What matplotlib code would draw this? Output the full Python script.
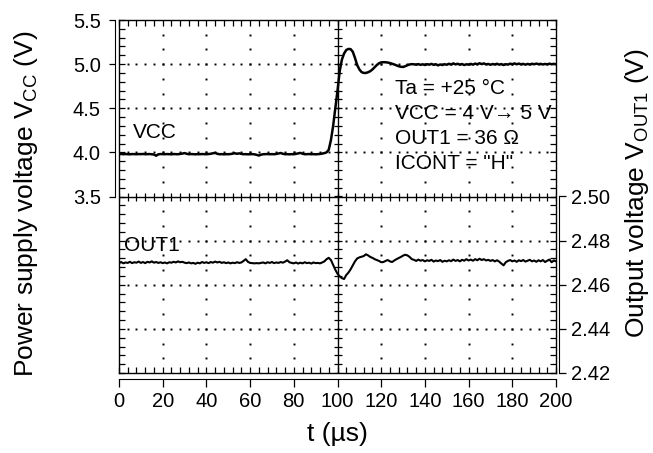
import numpy as np
import matplotlib
matplotlib.use("Agg")
import matplotlib.pyplot as plt
from matplotlib.ticker import MultipleLocator, FormatStrFormatter

plt.rcParams['font.family'] = ['Liberation Sans', 'DejaVu Sans']
plt.rcParams['mathtext.fontset'] = 'custom'
plt.rcParams['mathtext.rm'] = 'Liberation Sans'

# time axis, 1 us steps
t_us = np.arange(0, 201)

# VCC trace (V)
vcc = [
    3.980, 3.982, 3.979, 3.981, 3.980, 3.978, 3.981, 3.980, 3.979, 3.981,
    3.980, 3.982, 3.979, 3.980, 3.981, 3.979, 3.976, 3.962, 3.978, 3.981,
    3.980, 3.979, 3.981, 3.980, 3.978, 3.981, 3.980, 3.979, 3.982, 3.986,
    3.992, 3.984, 3.979, 3.981, 3.980, 3.978, 3.980, 3.979, 3.981, 3.980,
    3.979, 3.981, 3.984, 3.990, 3.994, 3.984, 3.979, 3.980, 3.978, 3.980,
    3.979, 3.981, 3.986, 3.990, 3.984, 3.989, 3.983, 3.979, 3.980, 3.978,
    3.979, 3.980, 3.978, 3.972, 3.964, 3.974, 3.979, 3.980, 3.981, 3.979,
    3.980, 3.979, 3.982, 3.988, 3.993, 3.984, 3.979, 3.980, 3.978, 3.980,
    3.979, 3.983, 3.989, 3.994, 3.985, 3.979, 3.980, 3.981, 3.979, 3.980,
    3.978, 3.980, 3.982, 3.986, 3.992, 4.000, 4.030, 4.140, 4.300, 4.500,
    4.700, 4.920, 5.050, 5.120, 5.160, 5.172, 5.170, 5.140, 5.070, 4.990,
    4.940, 4.910, 4.900, 4.900, 4.908, 4.920, 4.940, 4.965, 4.990, 5.010,
    5.020, 5.022, 5.021, 5.018, 5.012, 5.004, 4.996, 4.986, 4.976, 4.970,
    4.968, 4.976, 4.988, 4.996, 5.000, 4.998, 4.994, 5.000, 4.992, 4.998,
    4.990, 4.999, 4.994, 5.003, 4.991, 4.999, 4.986, 4.996, 4.990, 4.999,
    4.993, 5.004, 4.995, 5.008, 4.997, 5.004, 4.994, 5.001, 4.990, 4.998,
    4.995, 5.003, 4.994, 5.006, 4.998, 5.010, 5.000, 5.008, 4.997, 5.002,
    4.993, 5.001, 4.996, 5.004, 4.994, 5.000, 4.990, 4.999, 4.995, 5.005,
    4.999, 5.008, 4.998, 5.006, 4.997, 5.003, 4.994, 5.002, 4.996, 5.004,
    4.998, 5.006, 4.999, 5.003, 4.996, 5.002, 4.997, 5.005, 4.999, 5.003, 4.998,
]

# OUT1 trace (V)
out1 = [
    2.4698, 2.4703, 2.4697, 2.4701, 2.4699, 2.4704, 2.4698, 2.4702, 2.4700, 2.4705,
    2.4699, 2.4703, 2.4698, 2.4704, 2.4701, 2.4706, 2.4700, 2.4703, 2.4699, 2.4702,
    2.4698, 2.4701, 2.4697, 2.4702, 2.4700, 2.4704, 2.4701, 2.4706, 2.4702, 2.4704,
    2.4700, 2.4698, 2.4701, 2.4697, 2.4699, 2.4695, 2.4700, 2.4697, 2.4703, 2.4699,
    2.4702, 2.4698, 2.4703, 2.4700, 2.4705, 2.4701, 2.4704, 2.4699, 2.4702, 2.4698,
    2.4701, 2.4697, 2.4700, 2.4698, 2.4702, 2.4699, 2.4701, 2.4708, 2.4716, 2.4704,
    2.4699, 2.4698, 2.4697, 2.4698, 2.4697, 2.4699, 2.4701, 2.4697, 2.4702, 2.4699,
    2.4703, 2.4698, 2.4701, 2.4699, 2.4703, 2.4700, 2.4705, 2.4711, 2.4702, 2.4699,
    2.4697, 2.4701, 2.4696, 2.4700, 2.4697, 2.4702, 2.4698, 2.4700, 2.4696, 2.4701,
    2.4698, 2.4699, 2.4697, 2.4701, 2.4706, 2.4716, 2.4722, 2.4712, 2.4690, 2.4668,
    2.4650, 2.4638, 2.4630, 2.4626, 2.4644, 2.4655, 2.4670, 2.4688, 2.4706, 2.4719,
    2.4724, 2.4727, 2.4730, 2.4738, 2.4733, 2.4726, 2.4722, 2.4716, 2.4712, 2.4708,
    2.4702, 2.4703, 2.4708, 2.4712, 2.4706, 2.4703, 2.4710, 2.4716, 2.4721, 2.4726,
    2.4732, 2.4736, 2.4733, 2.4726, 2.4716, 2.4713, 2.4708, 2.4714, 2.4709, 2.4712,
    2.4706, 2.4711, 2.4708, 2.4713, 2.4705, 2.4710, 2.4707, 2.4712, 2.4704, 2.4709,
    2.4706, 2.4711, 2.4707, 2.4714, 2.4708, 2.4712, 2.4706, 2.4713, 2.4709, 2.4716,
    2.4710, 2.4714, 2.4709, 2.4716, 2.4711, 2.4718, 2.4712, 2.4716, 2.4710, 2.4713,
    2.4708, 2.4712, 2.4706, 2.4711, 2.4705, 2.4696, 2.4688, 2.4702, 2.4708, 2.4712,
    2.4706, 2.4710, 2.4704, 2.4711, 2.4707, 2.4712, 2.4705, 2.4709, 2.4713, 2.4706,
    2.4710, 2.4704, 2.4711, 2.4706, 2.4712, 2.4703, 2.4709, 2.4714, 2.4702, 2.4710, 2.4706,
]

vcc_ticks = [3.5, 4.0, 4.5, 5.0, 5.5]
out_ticks = [2.42, 2.44, 2.46, 2.48, 2.50]
t_ticks = np.arange(0, 201, 20)
cond_lines = ["Ta = +25 °C", "VCC = 4 V\u2192 5 V", "OUT1 = 36 \u03a9", "ICONT = \"H\""]

W, H = 653, 453
fig = plt.figure(figsize=(W / 100, H / 100), dpi=100)
pos = [119 / W, 1 - 373 / H, (556 - 119) / W, (373 - 20) / H]

# graticule
gax = fig.add_axes(pos)
gax.set_xlim(0, 200)
gax.set_ylim(1.5, 5.5)
gax.xaxis.set_major_locator(MultipleLocator(4))
gax.yaxis.set_major_locator(MultipleLocator(0.1))
gax.tick_params(direction='in', length=4, width=0.9, top=True, right=True,
                labelbottom=False, labelleft=False)
for s in gax.spines.values():
    s.set_linewidth(1.0)

minor_t = np.arange(0, 201, 4)
for yv in [2.0, 2.5, 3.0, 4.0, 4.5, 5.0]:
    gax.plot(minor_t[1:-1], np.full(len(minor_t) - 2, yv), ls='none',
             marker='s', ms=1.4, mec='none', color='black')
ydots = np.linspace(1.5, 5.5, 25)
for xv in [20, 40, 60, 80, 120, 140, 160, 180]:
    gax.plot(np.full(len(ydots) - 2, xv), ydots[1:-1], ls='none',
             marker='s', ms=1.4, mec='none', color='black')

# centre cross with ticks
gax.axhline(3.5, color='black', lw=1.0)
gax.axvline(100, color='black', lw=1.0)
gax.plot(minor_t, np.full(len(minor_t), 3.5), ls='none', marker='|',
         ms=6, mew=0.9, color='black')
yt = np.arange(1.5, 5.51, 0.1)
gax.plot(np.full(len(yt), 100), yt, ls='none', marker='_',
         ms=6, mew=0.9, color='black')

# labelled axes
ax = fig.add_axes(pos)
ax.patch.set_visible(False)
ax.set_xlim(0, 200)
ax.set_ylim(1.5, 5.5)
ax.spines['top'].set_visible(False)
ax.spines['right'].set_visible(False)
ax.spines['left'].set_position(('outward', 3))
ax.spines['left'].set_bounds(3.5, 5.5)
ax.spines['bottom'].set_position(('outward', 4))
ax.spines['bottom'].set_bounds(0, 200)
ax.set_yticks(vcc_ticks)
ax.yaxis.set_major_formatter(FormatStrFormatter('%.1f'))
ax.set_xticks(t_ticks)
ax.tick_params(axis='y', direction='out', length=4, width=0.9, pad=6, labelsize=14.5)
ax.tick_params(axis='x', direction='out', length=6, width=0.9, pad=4, labelsize=14.5)

ax.plot(t_us, vcc, color='black', lw=1.8)

ax2 = ax.twinx()
ax2.set_ylim(2.42, 2.58)
for k in ['top', 'left', 'bottom']:
    ax2.spines[k].set_visible(False)
ax2.spines['right'].set_position(('outward', 2))
ax2.spines['right'].set_bounds(2.42, 2.50)
ax2.set_yticks(out_ticks)
ax2.yaxis.set_major_formatter(FormatStrFormatter('%.2f'))
ax2.tick_params(axis='y', direction='out', length=5, width=0.9, pad=4, labelsize=14.5)
ax2.plot(t_us, out1, color='black', lw=1.5)

ax.set_ylabel("Power supply voltage V$_\\mathregular{CC}$ (V)", fontsize=19)
ax.yaxis.set_label_coords(-0.18, 0.48)
ax2.set_ylabel("Output voltage V$_\\mathregular{OUT1}$ (V)", fontsize=19)
ax2.yaxis.set_label_coords(1.153, 0.51)
ax.set_xlabel("t (µs)", fontsize=19)
ax.xaxis.set_label_coords(0.5, -0.14)

ax.text(6.5, 4.23, "VCC", fontsize=15, va='center', ha='left')
ax.text(2.5, 2.95, "OUT1", fontsize=15, va='center', ha='left')
for i, line in enumerate(cond_lines):
    ax.text(126.3, 4.725 - i * 0.285, line, fontsize=15, va='center', ha='left')

fig.savefig("out.png", dpi=100)
